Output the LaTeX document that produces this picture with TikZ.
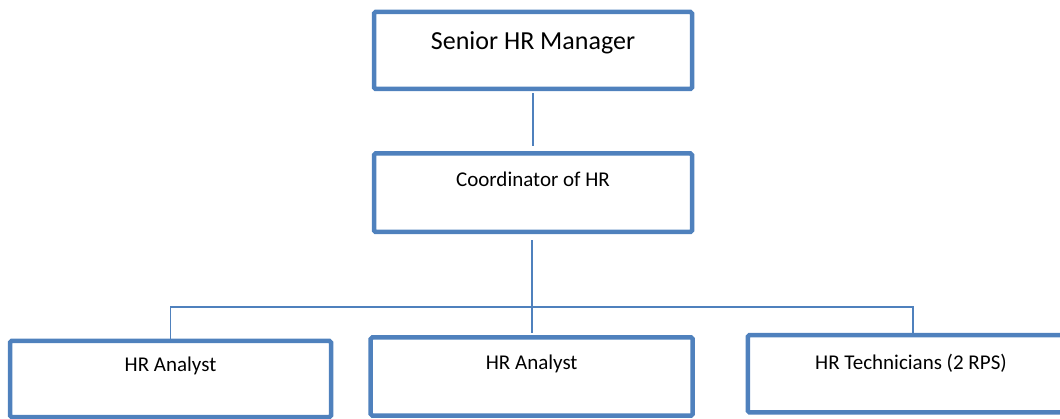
\documentclass[tikz,border=0pt]{standalone}
\usepackage{fontspec}
\setmainfont{Carlito}
\usetikzlibrary{positioning}
\definecolor{hrblue}{HTML}{4F81BD}
\tikzstyle{post} = [draw=hrblue, line width=4.5pt, rectangle, rounded corners=1.5pt, inner sep=0pt, anchor=base, font=\fontsize{21}{24}\selectfont]
\tikzstyle{link} = [draw=hrblue, line width=1.6pt]

\begin{document}
\begin{tikzpicture}[x=1pt, y=-1pt]
        \useasboundingbox (0,0) rectangle (1060,419);
        \node[post, minimum width=318pt, text height=38pt, text depth=39pt, font=\fontsize{26}{30}\selectfont] (manager) at (533,50) {Senior HR Manager};
        \node[post, minimum width=318pt, text height=33pt, text depth=45.5pt] (coordinator) at (533,186.5) {Coordinator of HR};
        \node[post, minimum width=321pt, text height=30.7pt, text depth=45.3pt] (analyst1) at (170.5,371.7) {HR Analyst};
        \node[post, minimum width=322pt, text height=32.5pt, text depth=45.5pt] (analyst2) at (531.7,370) {HR Analyst};
        % last box runs off the right edge, so only three sides are drawn
        \node[post, draw=none, minimum width=322pt, text height=32.5pt, text depth=40pt] (technicians) at (911,370) {HR Technicians (2 RPS)};
        \draw[hrblue, line width=4.5pt, rounded corners=1.5pt] ([xshift=40pt]technicians.north east) -- (technicians.north west) -- (technicians.south west) -- ([xshift=40pt]technicians.south east);
        \coordinate (bus) at (531.7,307);
        \coordinate (techdrop) at (913,307);
        \draw[link, shorten <=2pt, shorten >=5pt] (manager.south) -- (coordinator.north);
        \draw[link, shorten <=6pt, shorten >=2pt] (coordinator.south -| analyst2.north) -- (analyst2.north);
        \draw[link] (analyst1.north) -- (analyst1.north |- bus) -- (techdrop) -- (techdrop |- technicians.north);
    \end{tikzpicture}
\end{document}
